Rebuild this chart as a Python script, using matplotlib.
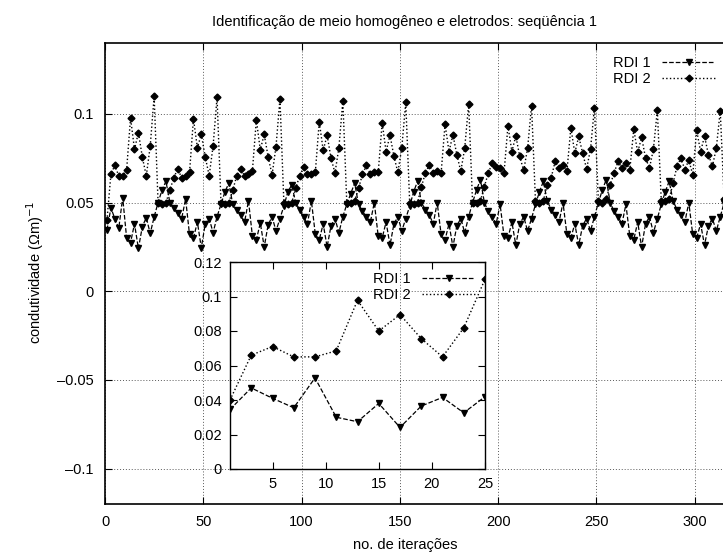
import matplotlib
matplotlib.use("Agg")
import matplotlib.pyplot as plt
from matplotlib.ticker import FormatStrFormatter, FuncFormatter

plt.rcParams['font.family'] = ['Liberation Sans Narrow', 'Liberation Sans', 'DejaVu Sans']

# iterations (odd numbers, 16 measurements per sequence)
iteracoes = list(range(1, 320, 2))

# RDI 1, one row per sequence of 16 measurements
rdi1 = [
    0.0345, 0.047, 0.041, 0.0355, 0.0528, 0.030, 0.0274, 0.038, 0.0241, 0.0365, 0.0415, 0.0326, 0.0419, 0.050, 0.057, 0.062,
    0.050, 0.047, 0.044, 0.041, 0.052, 0.032, 0.030, 0.039, 0.0245, 0.038, 0.041, 0.033, 0.042, 0.049, 0.056, 0.061,
    0.049, 0.046, 0.043, 0.039, 0.051, 0.031, 0.029, 0.0385, 0.025, 0.0375, 0.042, 0.034, 0.041, 0.048, 0.056, 0.060,
    0.050, 0.046, 0.042, 0.038, 0.051, 0.032, 0.029, 0.038, 0.025, 0.037, 0.041, 0.033, 0.042, 0.049, 0.055, 0.061,
    0.049, 0.045, 0.042, 0.039, 0.050, 0.031, 0.030, 0.039, 0.026, 0.038, 0.042, 0.034, 0.041, 0.048, 0.056, 0.062,
    0.050, 0.046, 0.043, 0.038, 0.050, 0.032, 0.029, 0.038, 0.025, 0.037, 0.041, 0.033, 0.042, 0.050, 0.057, 0.063,
    0.050, 0.045, 0.042, 0.038, 0.049, 0.031, 0.030, 0.039, 0.026, 0.038, 0.042, 0.034, 0.041, 0.049, 0.056, 0.062,
    0.051, 0.046, 0.043, 0.039, 0.050, 0.032, 0.030, 0.038, 0.026, 0.037, 0.041, 0.034, 0.042, 0.050, 0.057, 0.063,
    0.050, 0.045, 0.042, 0.038, 0.049, 0.031, 0.029, 0.039, 0.025, 0.038, 0.042, 0.033, 0.041, 0.049, 0.056, 0.062,
    0.051, 0.046, 0.043, 0.039, 0.050, 0.032, 0.030, 0.038, 0.026, 0.037, 0.041, 0.034, 0.042, 0.050, 0.057, 0.062,
]

# RDI 2, same layout
rdi2 = [
    0.040, 0.066, 0.071, 0.065, 0.065, 0.0685, 0.0978, 0.080, 0.0895, 0.0756, 0.065, 0.0818, 0.110, 0.050, 0.049, 0.050,
    0.057, 0.064, 0.069, 0.064, 0.065, 0.067, 0.0972, 0.081, 0.0885, 0.0757, 0.0652, 0.082, 0.1094, 0.050, 0.049, 0.050,
    0.057, 0.065, 0.069, 0.065, 0.066, 0.068, 0.0966, 0.0798, 0.0885, 0.0757, 0.0657, 0.0816, 0.1085, 0.050, 0.049, 0.050,
    0.058, 0.065, 0.070, 0.066, 0.066, 0.067, 0.0957, 0.0794, 0.088, 0.075, 0.0667, 0.081, 0.1075, 0.050, 0.050, 0.051,
    0.058, 0.066, 0.071, 0.066, 0.067, 0.067, 0.0951, 0.0788, 0.088, 0.076, 0.067, 0.081, 0.1066, 0.050, 0.049, 0.050,
    0.059, 0.0667, 0.0713, 0.0667, 0.0676, 0.0667, 0.0942, 0.0788, 0.0882, 0.077, 0.0676, 0.0807, 0.1056, 0.050, 0.050, 0.051,
    0.059, 0.0667, 0.0723, 0.070, 0.0695, 0.0667, 0.0933, 0.0788, 0.0876, 0.076, 0.0681, 0.0807, 0.1047, 0.051, 0.050, 0.051,
    0.060, 0.064, 0.0732, 0.0695, 0.0713, 0.0676, 0.0923, 0.0779, 0.0873, 0.0779, 0.069, 0.0801, 0.1036, 0.051, 0.050, 0.052,
    0.060, 0.0667, 0.0732, 0.0695, 0.0726, 0.0685, 0.0914, 0.0783, 0.0869, 0.0751, 0.0695, 0.0801, 0.1022, 0.051, 0.051, 0.052,
    0.061, 0.0704, 0.0751, 0.0685, 0.074, 0.0657, 0.0907, 0.0788, 0.0873, 0.077, 0.0704, 0.0807, 0.1017, 0.052, 0.051, 0.052,
]

# inset shows the first 13 points (iterations 1..25)
n_inset = 13

W, H = 723, 557
fig = plt.figure(figsize=(W / 100, H / 100), dpi=100)


def dash_fmt(v, pos):
    # gnuplot style labels with a long dash for negatives
    return ('%g' % v).replace('-', '\u2013')


# main axes (right border runs just past the picture edge)
ax = fig.add_axes([105 / W, 1 - 504 / H, 629 / W, 461 / H])
ax.plot(iteracoes, rdi1, color='k', ls='--', lw=0.9, marker='v', ms=5, label='RDI 1')
ax.plot(iteracoes, rdi2, color='k', ls=':', lw=1.0, marker='D', ms=3.5, label='RDI 2')
ax.set_xlim(0, 320)
ax.set_ylim(-0.12, 0.14)
ax.set_xticks([0, 50, 100, 150, 200, 250, 300])
ax.set_yticks([-0.1, -0.05, 0, 0.05, 0.1])
ax.yaxis.set_major_formatter(FuncFormatter(dash_fmt))
ax.tick_params(direction='in', top=True, right=True, labelsize=10.5, length=5, pad=8)
ax.grid(True, color='0.35', ls=(0, (1, 2)), lw=0.7)
for s in ax.spines.values():
    s.set_linewidth(1.2)

leg = ax.legend(loc='upper left', bbox_to_anchor=(600 / W, 1 - 43 / H),
                bbox_transform=fig.transFigure, frameon=False, markerfirst=False,
                fontsize=10.5, handlelength=3.6, handletextpad=0.8, labelspacing=0.15)

# inset with the first iterations
ins = fig.add_axes([230 / W, 1 - 469 / H, 255 / W, 207 / H])
ins.patch.set_alpha(0)
ins.plot(iteracoes[:n_inset], rdi1[:n_inset], color='k', ls='--', lw=0.9, marker='v', ms=5, label='RDI 1')
ins.plot(iteracoes[:n_inset], rdi2[:n_inset], color='k', ls=':', lw=1.0, marker='D', ms=3.5, label='RDI 2')
ins.set_xlim(1, 25)
ins.set_ylim(0, 0.12)
ins.set_xticks([5, 10, 15, 20, 25])
ins.set_yticks([0, 0.02, 0.04, 0.06, 0.08, 0.1, 0.12])
ins.yaxis.set_major_formatter(FormatStrFormatter('%g'))
ins.tick_params(direction='in', top=True, right=True, labelsize=10.5, length=5, pad=6)
for s in ins.spines.values():
    s.set_linewidth(1.0)
ins.legend(loc='upper right', bbox_to_anchor=(1.0, 1.0), frameon=False, markerfirst=False,
           fontsize=10.5, handlelength=3.6, handletextpad=0.8, labelspacing=0.15,
           borderaxespad=0.3)

fig.text(405 / W, 1 - 22 / H, 'Identificação de meio homogêneo e eletrodos: seqüência 1',
         ha='center', va='center', fontsize=10.5)
fig.text(405 / W, 1 - 545 / H, 'no. de iterações', ha='center', va='center', fontsize=10.5)
fig.text(35 / W, 1 - 272 / H, 'condutividade (Ωm)$^{-1}$', ha='center', va='center',
         rotation=90, fontsize=10.5)

fig.savefig('out.png', dpi=100)
